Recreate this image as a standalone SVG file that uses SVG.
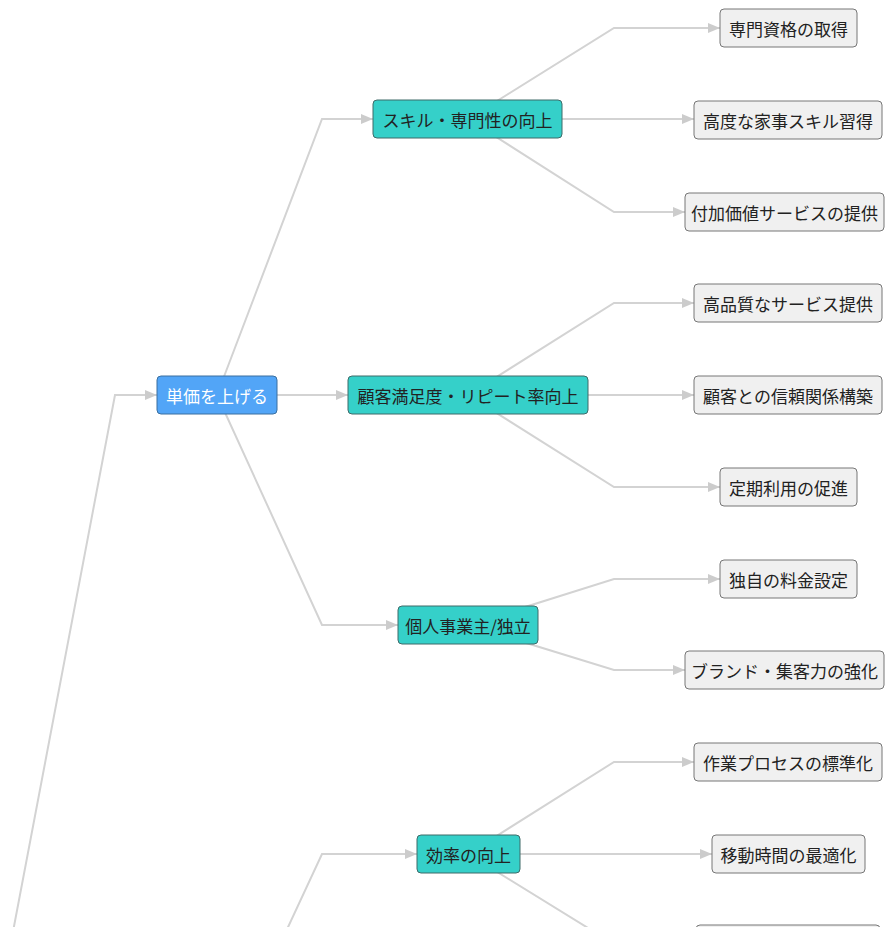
<svg xmlns="http://www.w3.org/2000/svg" width="885" height="927" viewBox="0 0 885 927">
<defs>
<marker id="arr" markerUnits="userSpaceOnUse" markerWidth="12" markerHeight="10" refX="12" refY="5" orient="auto">
<path d="M0,0 L12,5 L0,10 z" fill="#cccccc"/>
</marker>
<style>
.c{fill:none;stroke:#d3d3d3;stroke-width:2;marker-end:url(#arr)}
.node rect{stroke-width:1}
.root rect{fill:#52a5f7;stroke:#3a6f9f}
.mid rect{fill:#35d0c9;stroke:#3f6b69}
.leaf rect{fill:#f0f0f0;stroke:#777}
text{font-family:"Noto Sans CJK JP","Noto Sans",sans-serif;font-size:17px;text-anchor:middle;dominant-baseline:central;fill:#222}
.root text{fill:#fff}
</style>
</defs>
<rect x="0" y="0" width="885" height="927" style="fill:#fff;stroke:none"/>
<g id="connectors">
<polyline class="c" points="0,1000 115,395 157,395"/>
<polyline class="c" points="217,395 322,119 373,119"/>
<polyline class="c" points="217,395 348,395"/>
<polyline class="c" points="217,395 322,625 398,625"/>
<polyline class="c" points="217,1080 322,854 417,854"/>
<polyline class="c" points="468,119 614,28 720,28"/>
<polyline class="c" points="468,119 694,119"/>
<polyline class="c" points="468,119 614,212 685,212"/>
<polyline class="c" points="468,395 614,303 694,303"/>
<polyline class="c" points="468,395 694,395"/>
<polyline class="c" points="468,395 614,487 720,487"/>
<polyline class="c" points="468,625 614,579 720,579"/>
<polyline class="c" points="468,625 614,670 685,670"/>
<polyline class="c" points="468,854 614,762 694,762"/>
<polyline class="c" points="468,854 712,854"/>
<polyline class="c" points="468,854 614,944 696,944"/>
</g>
<g id="root" class="node root"><rect x="157" y="376" width="120" height="38" rx="4"/><text x="217" y="395">単価を上げる</text></g>
<g id="skill" class="node mid"><rect x="373" y="100" width="189" height="38" rx="4"/><text x="467.5" y="119">スキル・専門性の向上</text></g>
<g id="satisfaction" class="node mid"><rect x="348" y="376" width="240" height="38" rx="4"/><text x="468" y="395">顧客満足度・リピート率向上</text></g>
<g id="independent" class="node mid"><rect x="398" y="606" width="140" height="38" rx="4"/><text x="468" y="625">個人事業主/独立</text></g>
<g id="efficiency" class="node mid"><rect x="417" y="835" width="103" height="38" rx="4"/><text x="468.5" y="854">効率の向上</text></g>
<g id="leaf1" class="node leaf"><rect x="720" y="9" width="137" height="38" rx="4"/><text x="788.5" y="28">専門資格の取得</text></g>
<g id="leaf2" class="node leaf"><rect x="694" y="101" width="188" height="38" rx="4"/><text x="788" y="120">高度な家事スキル習得</text></g>
<g id="leaf3" class="node leaf"><rect x="685" y="193" width="199" height="38" rx="4"/><text x="784.5" y="212">付加価値サービスの提供</text></g>
<g id="leaf4" class="node leaf"><rect x="694" y="284" width="188" height="38" rx="4"/><text x="788" y="303">高品質なサービス提供</text></g>
<g id="leaf5" class="node leaf"><rect x="694" y="376" width="188" height="38" rx="4"/><text x="788" y="395">顧客との信頼関係構築</text></g>
<g id="leaf6" class="node leaf"><rect x="720" y="468" width="137" height="38" rx="4"/><text x="788.5" y="487">定期利用の促進</text></g>
<g id="leaf7" class="node leaf"><rect x="720" y="560" width="137" height="38" rx="4"/><text x="788.5" y="579">独自の料金設定</text></g>
<g id="leaf8" class="node leaf"><rect x="685" y="651" width="199" height="38" rx="4"/><text x="784.5" y="670">ブランド・集客力の強化</text></g>
<g id="leaf9" class="node leaf"><rect x="694" y="743" width="188" height="38" rx="4"/><text x="788" y="762">作業プロセスの標準化</text></g>
<g id="leaf10" class="node leaf"><rect x="712" y="835" width="153" height="38" rx="4"/><text x="788.5" y="854">移動時間の最適化</text></g>
<g id="leaf11" class="node leaf"><rect x="696" y="925" width="184" height="38" rx="4"/></g>
</svg>
